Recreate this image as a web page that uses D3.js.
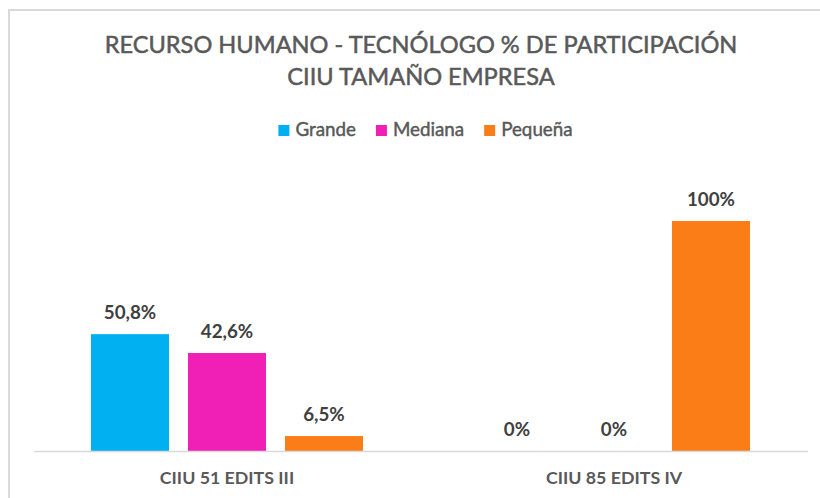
<!DOCTYPE html>
<html>
<head>
<meta charset="utf-8">
<script src="https://cdn.jsdelivr.net/npm/d3@7"></script>
<style>
  html, body { margin: 0; padding: 0; background: #fff; }
  svg { display: block; }
  text { font-family: Lato, "Open Sans", "Liberation Sans", sans-serif; }
</style>
</head>
<body>
<svg id="chart" width="820" height="498"></svg>
<script>
// Participation share (%) of tecnólogo staff by company size, per CIIU sector
const categories = ["CIIU 51 EDITS III", "CIIU 85 EDITS IV"];
const seriesNames = ["Grande", "Mediana", "Pequeña"];
const grande  = [50.8, 0];
const mediana = [42.6, 0];
const pequena = [6.5, 100];
const seriesColors = ["#00B0F0", "#F01FB6", "#FA7D18"];
const titleLines = ["RECURSO HUMANO - TECNÓLOGO % DE PARTICIPACIÓN", "CIIU TAMAÑO EMPRESA"];

const seriesValues = [grande, mediana, pequena];
const rows = categories.map((c, i) => ({
  category: c,
  values: seriesNames.map((s, j) => ({ name: s, value: seriesValues[j][i], color: seriesColors[j] }))
}));

const fmt = v => (Number.isInteger(v) ? String(v) : v.toFixed(1).replace(".", ",")) + "%";

const svg = d3.select("#chart");

// chart area frame
svg.append("rect")
  .attr("x", 9).attr("y", 10)
  .attr("width", 840).attr("height", 520)
  .attr("fill", "#fff")
  .attr("stroke", "#d9d9d9")
  .attr("stroke-width", 2);

// title
svg.append("g").selectAll("text")
  .data(titleLines)
  .join("text")
  .attr("x", 421)
  .attr("y", (d, i) => 53 + i * 32)
  .attr("text-anchor", "middle")
  .attr("fill", "#595959")
  .attr("stroke", "#595959")
  .attr("stroke-width", 0.5)
  .attr("font-size", 23.6)
  .text(d => d);

// scales
const x0 = d3.scaleBand().domain(categories).range([33.5, 807.5]);
const x1 = d3.scaleBand().domain(seriesNames)
  .range([0, x0.bandwidth()])
  .paddingInner(19 / 97)
  .paddingOuter(0.593);
const y = d3.scaleLinear().domain([0, 100]).range([451, 221]);

// bars
const groups = svg.append("g").selectAll("g")
  .data(rows)
  .join("g")
  .attr("transform", d => `translate(${x0(d.category)},0)`);

groups.selectAll("rect")
  .data(d => d.values)
  .join("rect")
  .attr("x", d => x1(d.name))
  .attr("y", d => y(d.value))
  .attr("width", x1.bandwidth())
  .attr("height", d => y(0) - y(d.value))
  .attr("fill", d => d.color);

// value labels
groups.selectAll("text")
  .data(d => d.values)
  .join("text")
  .attr("x", d => x1(d.name) + x1.bandwidth() / 2)
  .attr("y", d => y(d.value) - 15)
  .attr("text-anchor", "middle")
  .attr("fill", "#404040")
  .attr("font-weight", "bold")
  .attr("font-size", 18.8)
  .text(d => fmt(d.value));

// category axis
const axis = svg.append("g")
  .attr("transform", `translate(0,${y(0)})`)
  .call(d3.axisBottom(x0).tickSize(0));
axis.select(".domain").attr("stroke", "#d9d9d9").attr("stroke-width", 1.5);
axis.selectAll("text")
  .attr("y", 33).attr("dy", null)
  .attr("fill", "#595959")
  .attr("font-weight", "bold")
  .attr("font-size", 17.8)
  .attr("font-family", 'Lato, "Open Sans", sans-serif');

// legend
const legend = svg.append("g");
const items = legend.selectAll("g")
  .data(seriesNames)
  .join("g");
items.append("rect")
  .attr("width", 11).attr("height", 11)
  .attr("y", 125)
  .attr("fill", (d, i) => seriesColors[i]);
items.append("text")
  .attr("x", 17).attr("y", 136)
  .attr("fill", "#595959")
  .attr("stroke", "#595959")
  .attr("stroke-width", 0.45)
  .attr("font-size", 18.8)
  .text(d => d);
let widths = [];
items.each(function () { widths.push(17 + d3.select(this).select("text").node().getComputedTextLength()); });
const gap = 20;
const total = d3.sum(widths) + gap * (widths.length - 1);
let cx = 425.5 - total / 2;
items.attr("transform", (d, i) => {
  const t = `translate(${cx},0)`;
  cx += widths[i] + gap;
  return t;
});
</script>
</body>
</html>
